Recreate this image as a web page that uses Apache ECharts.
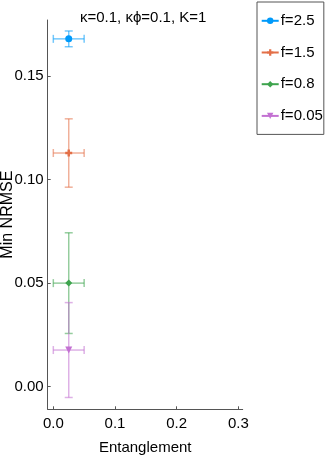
<!DOCTYPE html>
<html>
<head>
<meta charset="utf-8">
<script src="https://cdn.jsdelivr.net/npm/echarts@6/dist/echarts.min.js"></script>
<style>html,body{margin:0;padding:0;background:#fff}#c{width:330px;height:460px}</style>
</head>
<body>
<div id="c"></div>
<script>
const categories = ['f=2.5', 'f=1.5', 'f=0.8', 'f=0.05'];
const entanglement = [0.025, 0.025, 0.025, 0.025];
const entanglementErr = [0.025, 0.025, 0.025, 0.025];
const minNrmse = [0.1679, 0.1128, 0.0500, 0.0177];
const minNrmseErr = [0.0038, 0.0165, 0.0243, 0.0229];
const xTicks = [0.0, 0.1, 0.2, 0.3];
const yTicks = [0.00, 0.05, 0.10, 0.15];
const colors = ['#009AFA', '#E36F47', '#3EA44E', '#C371D2'];
const symbols = ['circle', 'path://M2.6,0H5.4V2.6H8V5.4H5.4V8H2.6V5.4H0V2.6H2.6Z', 'diamond', 'triangle'];
const rotations = [0, 0, 0, 180];

const FONT = 'Liberation Sans';
const chart = echarts.init(document.getElementById('c'), null, {renderer: 'canvas'});

function hexA(hex, a) {
  const r = parseInt(hex.slice(1,3),16), g = parseInt(hex.slice(3,5),16), b = parseInt(hex.slice(5,7),16);
  return `rgba(${r},${g},${b},${a})`;
}

const series = [];
categories.forEach((name, i) => {
  series.push({
    name: 'err' + name,
    type: 'custom',
    z: 1,
    silent: true,
    data: [[entanglement[i], minNrmse[i], entanglementErr[i], minNrmseErr[i]]],
    renderItem: function (params, api) {
      const x = api.value(0), y = api.value(1), ex = api.value(2), ey = api.value(3);
      const top = api.coord([x, y + ey]);
      const bot = api.coord([x, y - ey]);
      const lft = api.coord([x - ex, y]);
      const rgt = api.coord([x + ex, y]);
      const cap = 4;
      const style = {stroke: hexA(colors[i], 0.55), lineWidth: 1.5, fill: null};
      const L = (x1, y1, x2, y2) => ({type: 'line', shape: {x1, y1, x2, y2}, style});
      return {
        type: 'group',
        children: [
          L(top[0], top[1], bot[0], bot[1]),
          L(top[0] - cap, top[1], top[0] + cap, top[1]),
          L(bot[0] - cap, bot[1], bot[0] + cap, bot[1]),
          L(lft[0], lft[1], rgt[0], rgt[1]),
          L(lft[0], lft[1] - cap, lft[0], lft[1] + cap),
          L(rgt[0], rgt[1] - cap, rgt[0], rgt[1] + cap)
        ]
      };
    }
  });
  series.push({
    name: name,
    type: 'line',
    z: 3,
    data: [[entanglement[i], minNrmse[i]]],
    symbol: symbols[i],
    symbolSize: 7,
    symbolRotate: rotations[i],
    itemStyle: {color: colors[i], opacity: 1},
    lineStyle: {color: colors[i], width: 1.5},
    showSymbol: true,
    silent: true
  });
});

chart.setOption({
  animation: false,
  textStyle: {fontFamily: FONT},
  title: {
    text: 'κ=0.1, κϕ=0.1, K=1',
    left: 75, top: 5,
    textStyle: {fontFamily: FONT, fontSize: 15, fontWeight: 'normal', color: '#000'}
  },
  legend: {
    data: categories,
    orient: 'vertical',
    left: 257, top: 2,
    padding: [11.3, 1, 11, 3.7],
    itemWidth: 17, itemHeight: 8, itemGap: 16.7,
    borderColor: '#555', borderWidth: 1,
    textStyle: {fontFamily: FONT, fontSize: 15, color: '#000', padding: [0, 0, 0, -3]}
  },
  grid: {left: 47.7, right: 87.3, top: 20, bottom: 50.7, containLabel: false, outerBoundsMode: 'none'},
  xAxis: {
    type: 'value',
    min: -0.0091, max: 0.3071,
    name: 'Entanglement',
    nameLocation: 'middle', nameGap: 31, nameMoveOverlap: false,
    nameTextStyle: {fontFamily: FONT, fontSize: 15, color: '#000'},
    splitLine: {show: false},
    axisLine: {show: true, onZero: false, lineStyle: {color: '#555', width: 1}},
    axisTick: {show: true, inside: true, length: 3, customValues: xTicks, lineStyle: {color: '#555'}},
    axisLabel: {customValues: xTicks, formatter: v => v.toFixed(1), fontFamily: FONT, fontSize: 15, color: '#000', margin: 7}
  },
  yAxis: {
    type: 'value',
    min: -0.0109, max: 0.177,
    name: 'Min NRMSE',
    nameLocation: 'middle', nameGap: 32, nameRotate: 90, nameMoveOverlap: false,
    nameTextStyle: {fontFamily: FONT, fontSize: 16, color: '#000'},
    splitLine: {show: false},
    axisLine: {show: true, onZero: false, lineStyle: {color: '#555', width: 1}},
    axisTick: {show: true, inside: true, length: 3, customValues: yTicks, lineStyle: {color: '#555'}},
    axisLabel: {customValues: yTicks, formatter: v => v.toFixed(2), fontFamily: FONT, fontSize: 15, color: '#000', margin: 4}
  },
  series: series
});
</script>
</body>
</html>
